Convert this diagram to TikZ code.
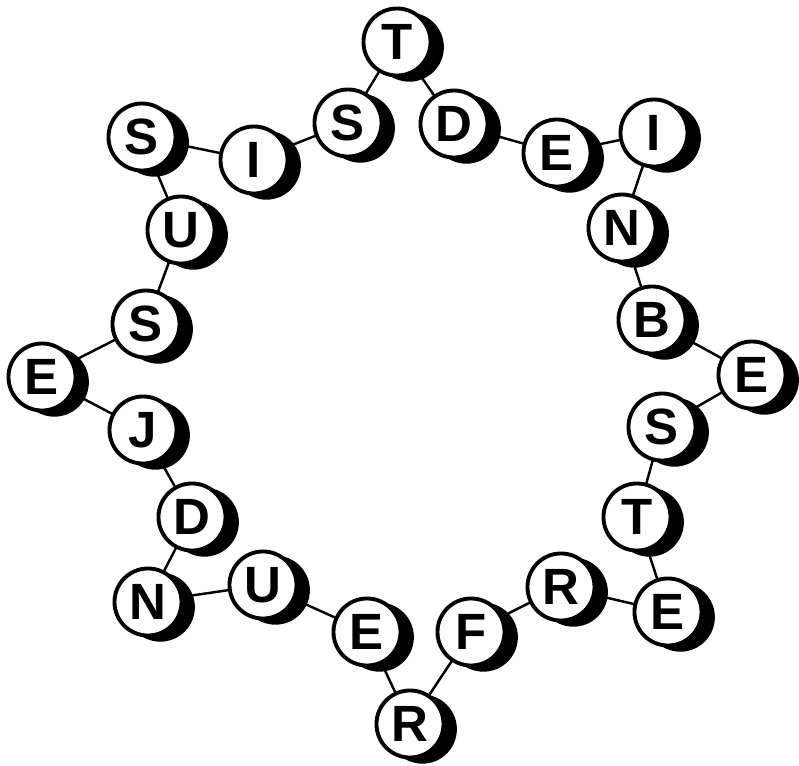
\documentclass[tikz,border=0pt]{standalone}
\usepackage{fontspec}
\setmainfont{Liberation Sans}
\usetikzlibrary{shadows,backgrounds}
\begin{document}
\begin{tikzpicture}[x=0.01cm,y=-0.01cm,
  ball/.style={circle, draw=black, line width=1.1pt, fill=white, inner sep=0pt,
    minimum size=0.67cm, font=\fontsize{14.5}{15}\selectfont\bfseries,
    drop shadow={shadow xshift=0.12cm, shadow yshift=-0.05cm, shadow scale=1.03, fill=black, opacity=1}},
  link/.style={draw=black, line width=0.7pt}]
\useasboundingbox (0,0) rectangle (799,766);
\node[ball] (n1)  at (397,42)  {T};
\node[ball] (n2)  at (348,123) {S};
\node[ball] (n3)  at (254,160) {I};
\node[ball] (n4)  at (142,137) {S};
\node[ball] (n5)  at (181,230) {U};
\node[ball] (n6)  at (146,324) {S};
\node[ball] (n7)  at (42,377)  {E};
\node[ball] (n8)  at (143,430) {J};
\node[ball] (n9)  at (192,517) {D};
\node[ball] (n10) at (148,602) {N};
\node[ball] (n11) at (263,585) {U};
\node[ball] (n12) at (367,632) {E};
\node[ball] (n13) at (410,724) {R};
\node[ball] (n14) at (471,632) {F};
\node[ball] (n15) at (561,587) {R};
\node[ball] (n16) at (668,612) {E};
\node[ball] (n17) at (637,517) {T};
\node[ball] (n18) at (662,427) {S};
\node[ball] (n19) at (752,375) {E};
\node[ball] (n20) at (652,320) {B};
\node[ball] (n21) at (622,228) {N};
\node[ball] (n22) at (654,133) {I};
\node[ball] (n23) at (557,153) {E};
\node[ball] (n24) at (454,124) {D};
\begin{scope}[on background layer]
\foreach \a/\b in {1/2,2/3,3/4,4/5,5/6,6/7,7/8,8/9,9/10,10/11,11/12,12/13,13/14,14/15,15/16,16/17,17/18,18/19,19/20,20/21,21/22,22/23,23/24,24/1}
  \draw[link] (n\a.center) -- (n\b.center);
\end{scope}
\end{tikzpicture}
\end{document}
